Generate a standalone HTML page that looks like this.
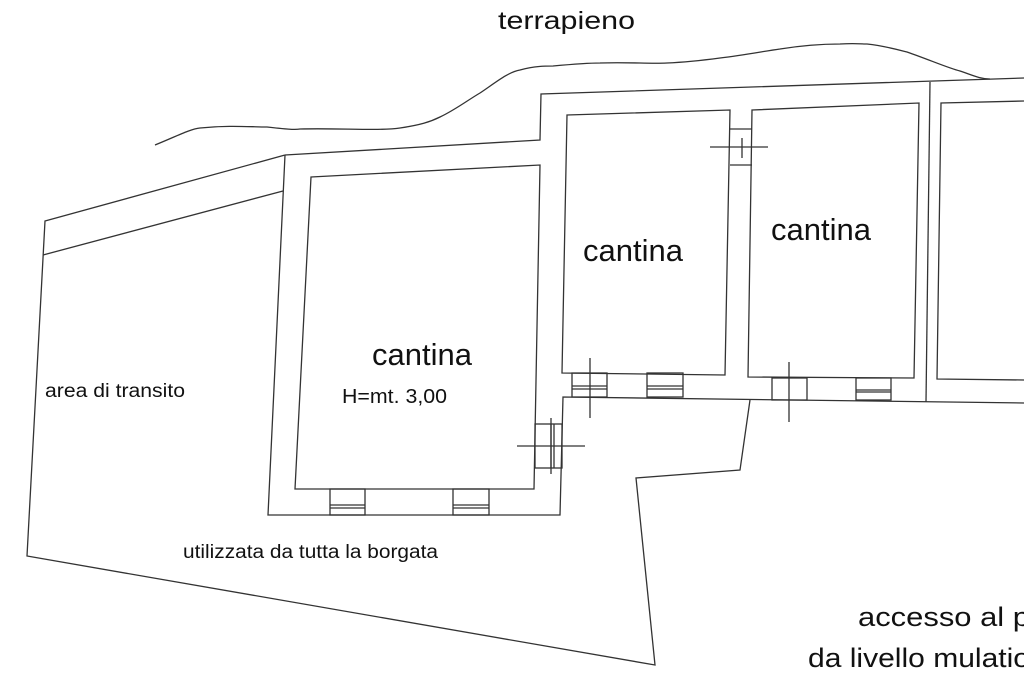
<!DOCTYPE html>
<html><head><meta charset="utf-8"><style>
html,body{margin:0;padding:0;background:#fff;width:1024px;height:682px;overflow:hidden}
svg{display:block}
text{font-family:"Liberation Sans",sans-serif;fill:#111}
</style></head><body>
<svg width="1024" height="682" viewBox="0 0 1024 682" xmlns="http://www.w3.org/2000/svg">
<g fill="none" stroke="#333" stroke-width="1.3">
<path d="M155,145 C175,137 190,129 200,128 C230,125 250,127 267,127 C285,129 295,130 300,129 C340,128 380,131 400,128 C420,125 430,122 440,117 C455,110 468,100 480,93 C495,83 508,72 520,70 C535,66 545,66 553,66 C575,64 590,63 600,63 C630,62 650,64 667,63 C690,62 705,60 720,58 C745,55 765,51 780,49 C805,45 825,44 840,44 C855,43 862,44 867,44 C885,46 895,49 907,52 C930,60 948,68 960,71 C972,75 980,79 990,79"/>
<polyline points="285,155 540,140 541,94 1024,78"/>
<polyline points="285,155 45,221 27,556 655,665 636,478 740,470 750,400"/>
<line x1="43" y1="255" x2="283" y2="191"/>
<polyline points="285,155 268,515 560,515 563,397 1024,403"/>
<polygon points="311,177 540,165 534,489 295,489"/>
<rect x="330" y="489" width="35" height="26"/>
<line x1="330" y1="505" x2="365" y2="505"/><line x1="330" y1="508" x2="365" y2="508"/>
<rect x="453" y="489" width="36" height="26"/>
<line x1="453" y1="505" x2="489" y2="505"/><line x1="453" y1="508" x2="489" y2="508"/>
<rect x="535" y="424" width="27" height="44"/>
<line x1="551" y1="424" x2="551" y2="468"/><line x1="554" y1="424" x2="554" y2="468"/>
<line x1="517" y1="446" x2="585" y2="446"/><line x1="551" y1="418" x2="551" y2="474"/>
<polygon points="567,115 730,110 725,375 562,373"/>
<rect x="572" y="373" width="35" height="24"/>
<line x1="572" y1="386" x2="607" y2="386"/><line x1="572" y1="389" x2="607" y2="389"/>
<line x1="590" y1="358" x2="590" y2="418"/>
<rect x="647" y="373" width="36" height="24"/>
<line x1="647" y1="386" x2="683" y2="386"/><line x1="647" y1="389" x2="683" y2="389"/>
<line x1="730" y1="129" x2="752" y2="129"/><line x1="730" y1="165" x2="752" y2="165"/>
<line x1="710" y1="147" x2="768" y2="147"/><line x1="742" y1="138" x2="742" y2="158"/>
<polygon points="752,110 919,103 914,378 748,377"/>
<rect x="772" y="378" width="35" height="22"/>
<line x1="789" y1="362" x2="789" y2="422"/>
<rect x="856" y="378" width="35" height="22"/>
<line x1="856" y1="390" x2="891" y2="390"/><line x1="856" y1="392" x2="891" y2="392"/>
<line x1="930" y1="82" x2="926" y2="402"/>
<polyline points="1024,101 941,103 937,379 1024,380"/>
</g>
<text x="498" y="29" font-size="25" textLength="137" lengthAdjust="spacingAndGlyphs">terrapieno</text>
<text x="583" y="261" font-size="31" textLength="100" lengthAdjust="spacingAndGlyphs">cantina</text>
<text x="771" y="240" font-size="31" textLength="100" lengthAdjust="spacingAndGlyphs">cantina</text>
<text x="372" y="365" font-size="31" textLength="100" lengthAdjust="spacingAndGlyphs">cantina</text>
<text x="342" y="403" font-size="20" textLength="105" lengthAdjust="spacingAndGlyphs">H=mt. 3,00</text>
<text x="45" y="397" font-size="19" textLength="140" lengthAdjust="spacingAndGlyphs">area di transito</text>
<text x="183" y="558" font-size="19" textLength="255" lengthAdjust="spacingAndGlyphs">utilizzata da tutta la borgata</text>
<text x="858" y="626" font-size="27" textLength="172" lengthAdjust="spacingAndGlyphs">accesso al p</text>
<text x="808" y="667" font-size="27" textLength="222" lengthAdjust="spacingAndGlyphs">da livello mulatio</text>
</svg>
</body></html>
